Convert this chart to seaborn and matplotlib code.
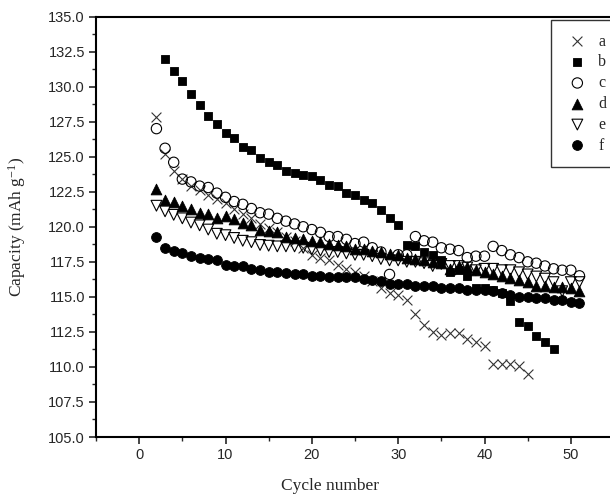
import numpy as np
import pandas as pd
import matplotlib
matplotlib.use("Agg")
import matplotlib.pyplot as plt
from matplotlib.ticker import MultipleLocator
import seaborn as sns

# cycle numbers for each series
cycles_a = list(range(2, 46))
cycles_b = list(range(3, 49))
cycles_full = list(range(2, 52))

cap_a = [127.8, 125.2, 124.0, 123.4, 122.9, 122.6, 122.3, 122.0, 121.7, 121.3,
         120.9, 120.6, 120.2, 119.9, 119.6, 119.3, 119.0, 118.5, 118.0, 117.8,
         117.6, 117.3, 117.0, 116.8, 116.5, 116.1, 115.6, 115.3, 115.1, 114.8,
         113.8, 113.0, 112.5, 112.3, 112.4, 112.4, 112.0, 111.8, 111.5, 110.2,
         110.2, 110.2, 110.1, 109.5]
cap_b = [132.0, 131.1, 130.4, 129.5, 128.7, 127.9, 127.3, 126.7, 126.3, 125.7,
         125.5, 124.9, 124.6, 124.4, 124.0, 123.8, 123.7, 123.6, 123.3, 123.0,
         122.9, 122.4, 122.3, 121.9, 121.7, 121.2, 120.6, 120.1, 118.7, 118.6,
         118.2, 118.0, 117.6, 116.8, 116.9, 116.5, 115.6, 115.6, 115.5, 115.3,
         114.7, 113.2, 112.9, 112.2, 111.8, 111.3]
cap_c = [127.0, 125.6, 124.6, 123.4, 123.2, 122.9, 122.8, 122.4, 122.1, 121.8,
         121.6, 121.3, 121.0, 120.9, 120.6, 120.4, 120.2, 120.0, 119.8, 119.6,
         119.3, 119.3, 119.1, 118.8, 118.9, 118.5, 118.2, 116.6, 118.0, 118.0,
         119.3, 119.0, 118.9, 118.5, 118.4, 118.3, 117.8, 117.9, 117.9, 118.6,
         118.3, 118.0, 117.8, 117.5, 117.4, 117.2, 117.0, 116.9, 116.9, 116.5]
cap_d = [122.7, 121.9, 121.8, 121.5, 121.3, 121.0, 120.9, 120.6, 120.8, 120.55,
         120.3, 120.1, 119.8, 119.7, 119.6, 119.25, 119.2, 119.1, 119.0, 118.9,
         118.8, 118.7, 118.6, 118.4, 118.4, 118.3, 118.2, 118.05, 118.0, 117.8,
         117.7, 117.6, 117.5, 117.4, 117.0, 117.2, 117.1, 116.9, 116.8, 116.6,
         116.5, 116.35, 116.2, 116.05, 115.8, 115.8, 115.7, 115.7, 115.6, 115.45]
cap_e = [121.5, 121.1, 120.85, 120.6, 120.3, 120.1, 119.8, 119.5, 119.4, 119.2,
         119.0, 118.9, 118.7, 118.65, 118.6, 118.6, 118.6, 118.5, 118.4, 118.3,
         118.2, 118.2, 118.1, 118.0, 118.0, 117.9, 117.7, 117.6, 117.6, 117.5,
         117.5, 117.4, 117.2, 117.35, 117.2, 117.2, 117.1, 116.9, 117.0, 117.0,
         116.9, 116.9, 116.75, 116.6, 116.45, 116.3, 116.05, 115.4, 116.05, 116.05]
cap_f = [119.3, 118.5, 118.3, 118.1, 117.9, 117.8, 117.7, 117.6, 117.3, 117.2,
         117.2, 117.0, 116.9, 116.8, 116.8, 116.7, 116.6, 116.6, 116.5, 116.5,
         116.4, 116.4, 116.4, 116.4, 116.3, 116.2, 116.1, 115.9, 115.9, 115.9,
         115.8, 115.8, 115.8, 115.65, 115.6, 115.6, 115.5, 115.5, 115.5, 115.4,
         115.3, 115.1, 115.0, 115.0, 114.95, 114.9, 114.8, 114.8, 114.6, 114.55]

labels = ["a", "b", "c", "d", "e", "f"]

sns.set_style("ticks")
plt.rcParams['font.family'] = ['Liberation Sans', 'DejaVu Sans']
plt.rcParams['mathtext.default'] = 'regular'

fig = plt.figure(figsize=(6.1, 4.98), dpi=100)
ax = fig.add_axes([96 / 610, 61 / 498, 518 / 610, 420.5 / 498])

series = [
    (cycles_a, cap_a, dict(marker="x", s=50, color="#333333", linewidth=0.8)),
    (cycles_b, cap_b, dict(marker="s", s=40, color="black", edgecolor="black", linewidth=0.6)),
    (cycles_full, cap_c, dict(marker="o", s=55, facecolor="none", edgecolor="black", linewidth=0.8)),
    (cycles_full, cap_d, dict(marker="^", s=60, color="black", edgecolor="black", linewidth=0.6)),
    (cycles_full, cap_e, dict(marker="v", s=60, facecolor="none", edgecolor="black", linewidth=0.8)),
    (cycles_full, cap_f, dict(marker="o", s=50, color="black", edgecolor="black", linewidth=0.6)),
]

for (cx, cy, kw), lab in zip(series, labels):
    df = pd.DataFrame({"cycle": cx, "capacity": cy})
    sns.scatterplot(data=df, x="cycle", y="capacity", ax=ax, label=lab, zorder=3, **kw)

ax.set_xlim(-5, 55)
ax.set_ylim(105, 135)
ax.xaxis.set_major_locator(MultipleLocator(10))
ax.xaxis.set_minor_locator(MultipleLocator(5))
ax.yaxis.set_major_locator(MultipleLocator(2.5))
ax.yaxis.set_minor_locator(MultipleLocator(1.25))
ax.yaxis.set_major_formatter(matplotlib.ticker.FormatStrFormatter("%.1f"))
ax.tick_params(which="major", direction="out", length=5, width=1.2, labelsize=10.5, pad=3)
ax.tick_params(which="minor", direction="out", length=3, width=1.0)
for sp in ax.spines.values():
    sp.set_linewidth(1.5)
    sp.set_color("black")

ax.set_xlabel("Cycle number", family=["Liberation Serif"], fontsize=12.5)
ax.set_ylabel("Capacity (mAh g$^{-1}$)", family=["Liberation Serif"], fontsize=12.5)
ax.xaxis.set_label_coords((330 - 96) / 518, -41 / 420.5)
ax.yaxis.set_label_coords(-68 / 518, 0.5)

leg = ax.legend(loc="upper left", bbox_to_anchor=(551 / 610, 1 - 20 / 498),
                bbox_transform=fig.transFigure, frameon=True, fancybox=False,
                prop={"family": "Liberation Serif", "size": 11.5}, handletextpad=0.5,
                labelspacing=0.3, borderpad=0.85, handlelength=1.6, borderaxespad=0)
leg.get_frame().set_edgecolor("black")
leg.get_frame().set_linewidth(1.0)

fig.savefig("out.png", dpi=100)
